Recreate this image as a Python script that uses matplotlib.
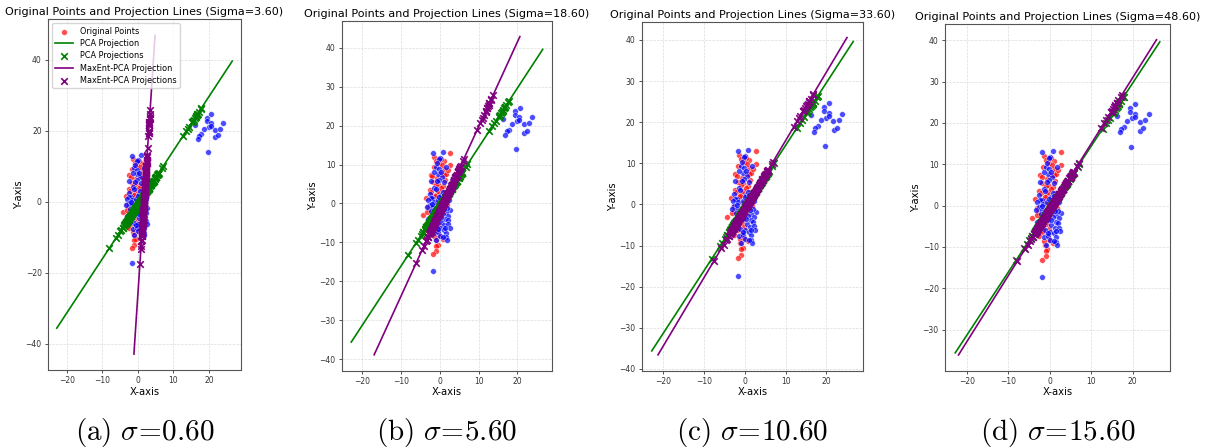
import numpy as np
import matplotlib.pyplot as plt

plt.rcParams['mathtext.fontset'] = 'cm'

# Puntos originales
red_x = [-1.5, 2.6, 1.0, 0.2, -0.2, 2.6, -1.6, 1.0, -2.4, 0.4, 1.0, 1.6, -0.8, -1.8, -0.4,
         0.8, -2.5, -0.8, -1.4, -3.0, -0.6, -4.3, -2.0, -1.6, -2.4, -3.2, -0.8, -0.2, -1.1,
         -0.6, -1.0, -1.0, -1.8,
         -2.2, -1.2, -2.8, -1.8, -0.5, -1.3, -2.5, -0.8, -1.9, -0.3, 0.3, 0.5, -0.4, 0.2,
         -1.0, 1.3, 0.6, -0.9, 2.0, -2.0, 1.8, -3.2, -2.6, -1.3, 0.8, 1.2, 2.2, -3.5]
red_y = [12.0, 13.0, 10.9, 11.4, 10.3, 9.8, 9.3, 8.9, 7.4, 7.5, 7.3, 7.7, 6.5, 5.4, 5.1,
         4.5, 3.5, 2.5, 1.7, -0.6, 0.3, -3.0, -4.2, -5.9, -5.1, -6.7, -7.1, -8.2, -9.5,
         -10.6, -10.9, -12.3, -13.1,
         3.0, 2.0, -1.5, -2.5, -1.5, -3.0, -3.8, -4.5, -6.3, -5.6, -2.0, 1.2, 3.2, 4.0,
         4.8, 6.0, 9.8, 11.0, 8.5, 7.0, -0.5, -2.2, -7.4, -8.5, -9.0, 3.0, 2.0, 1.5]

blue_x = [-1.8, 0.8, 0.0, -0.2, -1.0, -0.2, -0.4, -1.4, 0.6, -0.2, -2.4, -0.8, 1.0, -1.4,
          -2.6, -1.9, -2.4, -3.0, -1.6, -2.6, -2.0, -0.8, 0.4, 2.6, 1.6, 0.8, 2.2, -0.4,
          1.4, 2.0, 0.4, 1.2, 2.2, -1.2, 0.0, 1.0, 1.6, -1.4, -0.4, 1.6, -1.0, 0.0, -1.8,
          -2.2, -1.5, -0.6, 0.2, 0.9, 1.5, 2.3, 1.9, 1.2, 0.6, -0.2, 0.3, -0.9, -1.7, -2.3,
          -3.0, 2.5, 1.8, 0.9, -0.5, -1.1, 0.7, -0.1, 1.1, -2.0, -3.3, 2.7, 1.7, -0.7, 0.2, 1.4,
          19.4, 19.4, 20.6, 20.5, 19.9, 20.5, 21.7, 23.1, 23.9, 18.7, 17.8, 17.3, 16.9,
          21.8, 22.5, 19.7, 16.2]
blue_y = [13.0, 13.3, 11.7, 11.5, 9.4, 8.9, 7.7, 8.1, 6.9, 6.1, 5.8, 5.7, 5.4, 4.1,
          2.5, 1.4, 1.3, 0.9, 0.5, -0.3, -1.0, -1.1, -0.7, -1.8, -2.3, -2.7, -3.1, -3.5,
          -3.9, -4.3, -4.7, -5.5, -5.3, -5.9, -6.3, -6.7, -7.5, -7.7, -7.4, -8.7, -9.5, -8.3,
          -17.3,
          -2.0, -1.8, 0.8, 2.2, 0.5, 1.5, 0.8, -1.2, -1.4, -0.2, -2.4, -3.5, -2.8, -4.6, -5.6,
          -4.0, -6.2, -9.5, -8.6, -6.6, 3.6, 3.0, 1.7, 2.3, -0.2, -1.0, 4.0, 9.4, 10.4, 8.2, -6.2,
          23.7, 22.7, 24.6, 22.2, 21.1, 21.4, 20.3, 20.6, 22.1, 20.5, 19.0, 18.5, 17.7,
          18.1, 18.7, 14.1, 21.7]

# Rectas de proyección
centro = (1.85, 2.0)
medio_largo = 45
angulo_pca = 56.7
angulos_maxent = [86.2, 65.3, 59.0, 57.9]
sigmas_titulo = ['3.60', '18.60', '33.60', '48.60']
sigmas_pie = ['0.60', '5.60', '10.60', '15.60']
letras = ['a', 'b', 'c', 'd']

W, H = 1210, 448
rects_px = [(48, 19.3, 241, 370), (341.7, 20.7, 552.3, 370.7),
            (641.7, 21.7, 863.3, 370.7), (945, 24, 1170, 370.7)]

fig = plt.figure(figsize=(W / 100, H / 100), dpi=100)

pts = np.column_stack([red_x + blue_x, red_y + blue_y])
c = np.array(centro)


def recta_y_proyecciones(angulo):
    d = np.array([np.cos(np.radians(angulo)), np.sin(np.radians(angulo))])
    t = np.array([-medio_largo, medio_largo])
    linea = c + t[:, None] * d
    proy = c + ((pts - c) @ d)[:, None] * d
    return linea, proy


for i, (l, t, r, b) in enumerate(rects_px):
    ax = fig.add_axes([l / W, 1 - b / H, (r - l) / W, (b - t) / H])
    ax.scatter(red_x, red_y, s=17, c='red', alpha=0.7, edgecolors='white', linewidths=0.4,
               label='Original Points', zorder=2)
    ax.scatter(blue_x, blue_y, s=17, c='blue', alpha=0.7, edgecolors='white', linewidths=0.4,
               zorder=2)

    linea, proy = recta_y_proyecciones(angulo_pca)
    ax.plot(linea[:, 0], linea[:, 1], color='green', lw=1.2, label='PCA Projection', zorder=3)
    ax.scatter(proy[:, 0], proy[:, 1], marker='x', s=22, color='green', linewidths=1.2,
               label='PCA Projections', zorder=3)

    linea, proy = recta_y_proyecciones(angulos_maxent[i])
    ax.plot(linea[:, 0], linea[:, 1], color='purple', lw=1.2, label='MaxEnt-PCA Projection', zorder=4)
    ax.scatter(proy[:, 0], proy[:, 1], marker='x', s=22, color='purple', linewidths=1.2,
               label='MaxEnt-PCA Projections', zorder=4)

    ax.set_title(f'Original Points and Projection Lines (Sigma={sigmas_titulo[i]})',
                 fontsize=8.0, pad=3)
    ax.set_xlabel('X-axis', fontsize=7.2, labelpad=1)
    ax.set_ylabel('Y-axis', fontsize=7.2, labelpad=1)
    ax.tick_params(labelsize=5.5, length=2.5, width=0.6, pad=2, colors='#333333')
    ax.grid(True, linestyle='--', color='#cccccc', linewidth=0.5, alpha=0.7)
    for sp in ax.spines.values():
        sp.set_color('#555555')
        sp.set_linewidth(0.8)
    if i == 0:
        ax.legend(loc='upper left', fontsize=5.9, framealpha=0.8, handlelength=2.2,
                  borderpad=0.4, labelspacing=0.4, edgecolor='#cccccc')

    cx = (l + r) / 2 / W
    fig.text(cx, 1 - 432 / H,
             r'$\mathrm{(' + letras[i] + r')}\ \sigma\!=\!' + sigmas_pie[i] + '$',
             ha='center', va='center', fontsize=21)

fig.savefig('out.png', dpi=100)
